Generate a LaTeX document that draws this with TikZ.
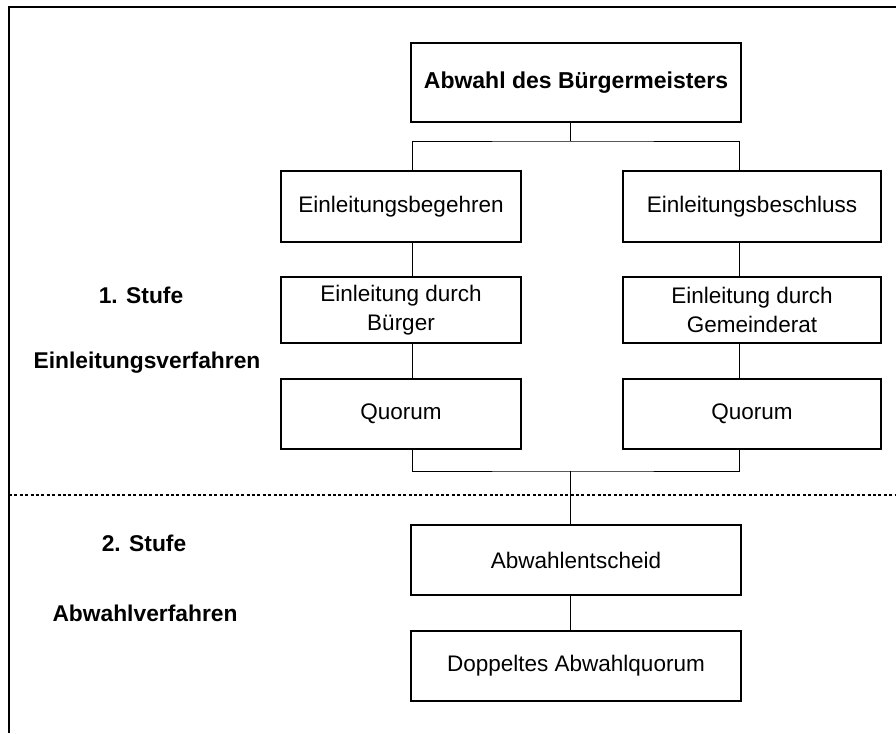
\documentclass[tikz,border=0pt]{standalone}
\usepackage{fontspec}
\setmainfont{Liberation Sans}
\begin{document}
\begin{tikzpicture}[x=1pt,y=-1pt,
  box/.style={draw,line width=1.8pt,rectangle,inner sep=0pt,align=center,
    font=\fontsize{22.5}{29}\selectfont},
  conn/.style={line width=1pt},
  lab/.style={font=\fontsize{22.8}{26}\selectfont\bfseries,inner sep=0pt}]
\useasboundingbox (0,0) rectangle (896,733);
% frame
\coordinate (fa) at (9,733);
\coordinate (fb) at (9,7);
\coordinate (fc) at (896,7);
\draw[line width=2pt] (fa) -- (fb) -- (fc);
% dotted separator
\coordinate (da) at (9,495);
\coordinate (db) at (896,495);
\draw[line width=2pt,dash pattern=on 3pt off 2.4pt] (da) -- (db);
% nodes
\node[box,minimum width=330,minimum height=79,font=\fontsize{23}{26}\selectfont\bfseries] (top) at (576,82.5) {Abwahl des Bürgermeisters};
\node[box,minimum width=240,minimum height=71] (l1) at (401,206.5) {Einleitungsbegehren};
\node[box,minimum width=240,minimum height=66] (l2) at (401,310) {Einleitung durch\\Bürger};
\node[box,minimum width=240,minimum height=70] (l3) at (401,414) {Quorum};
\node[box,minimum width=258,minimum height=71] (r1) at (752,206.5) {Einleitungsbeschluss};
\node[box,minimum width=258,minimum height=66] (r2) at (752,310) {Einleitung durch\\Gemeinderat};
\node[box,minimum width=258,minimum height=70] (r3) at (752,414) {Quorum};
\node[box,minimum width=330,minimum height=70] (a1) at (576,560) {Abwahlentscheid};
\node[box,minimum width=330,minimum height=70] (a2) at (576,666) {Doppeltes Abwahlquorum};
% labels
\node[lab] (s1) at (141,295) {1. Stufe};
\node[lab] (v1) at (147,363) {Einleitungsverfahren};
\node[lab] (s2) at (144,543) {2. Stufe};
\node[lab] (v2) at (145,613) {Abwahlverfahren};
% connectors
\coordinate (lx) at (412,0);
\coordinate (rx) at (739,0);
\coordinate (mx) at (570,0);
\coordinate (topj) at (570,141);
\coordinate (botj) at (570,471);
\draw[conn] (top.south -| mx) -- (topj);
\draw[conn] (l1.north -| lx) |- (topj) -| (r1.north -| rx);
\draw[conn] (l1.south -| lx) -- (l2.north -| lx);
\draw[conn] (l2.south -| lx) -- (l3.north -| lx);
\draw[conn] (r1.south -| rx) -- (r2.north -| rx);
\draw[conn] (r2.south -| rx) -- (r3.north -| rx);
\draw[conn] (l3.south -| lx) |- (botj) -| (r3.south -| rx);
\draw[conn] (botj) -- (a1.north -| mx);
\draw[conn] (a1.south -| mx) -- (a2.north -| mx);
\end{tikzpicture}
\end{document}
